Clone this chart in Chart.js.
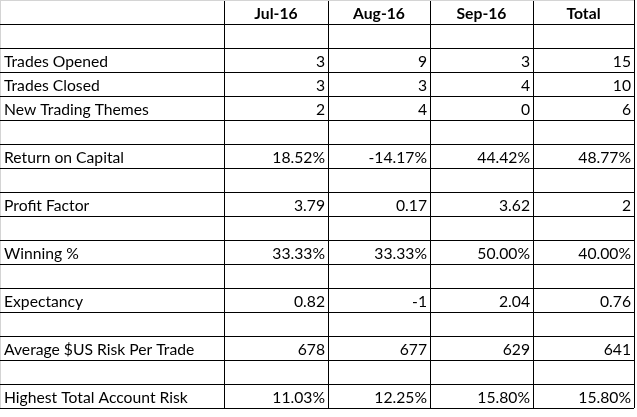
<!DOCTYPE html>
<html>
<head>
<meta charset="utf-8">
<script src="https://cdn.jsdelivr.net/npm/chart.js@4.4.0/dist/chart.umd.min.js"></script>
<style>
  html, body { margin: 0; padding: 0; background: #fff; }
  #wrap { width: 637px; height: 417px; }
</style>
</head>
<body>
<div id="wrap"><canvas id="stats"></canvas></div>
<script>
(function() {

    const months = ['Jul-16', 'Aug-16', 'Sep-16', 'Total'];

    // null = empty spacer row
    const metrics = [
        'Trades Opened', 'Trades Closed', 'New Trading Themes', null,
        'Return on Capital', null, 'Profit Factor', null, 'Winning %', null,
        'Expectancy', null, 'Average $US Risk Per Trade', null,
        'Highest Total Account Risk'
    ];
    const isPercent = [
        false, false, false, null, true, null, false, null, true, null,
        false, null, false, null, true
    ];

    const jul   = [3, 3, 2, null, 18.52, null, 3.79, null, 33.33, null, 0.82, null, 678, null, 11.03];
    const aug   = [9, 3, 4, null, -14.17, null, 0.17, null, 33.33, null, -1, null, 677, null, 12.25];
    const sep   = [3, 4, 0, null, 44.42, null, 3.62, null, 50.00, null, 2.04, null, 629, null, 15.80];
    const total = [15, 10, 6, null, 48.77, null, 2, null, 40.00, null, 0.76, null, 641, null, 15.80];
    const columns = [jul, aug, sep, total];

    // column edges along x (sheet column widths), rows are one unit each
    const colEdges = [0, 224, 328, 430, 533, 634];
    const headerRows = 2;
    const rowCount = headerRows + metrics.length;

    const font = '15.7px Lato';
    const boldFont = 'bold 15.7px Lato';

    function fmt(v, pct) {
        if (v === null) return '';
        return pct ? v.toFixed(2) + '%' : String(v);
    }

    // one point per cell, placed at the bottom-right corner of the cell
    const datasets = columns.map(function(col, c) {
        return {
            label: months[c],
            data: col.map(function(v, i) {
                return { x: colEdges[c + 2], y: headerRows + i + 1, text: fmt(v, isPercent[i]) };
            }),
            pointRadius: 0,
            pointHoverRadius: 0,
            showLine: false
        };
    });

    const tablePlugin = {
        id: 'tableText',
        beforeDraw(chart) {
            const ctx = chart.ctx;
            ctx.save();
            ctx.fillStyle = '#ffffff';
            ctx.fillRect(0, 0, chart.width, chart.height);
            ctx.restore();
        },
        afterDatasetsDraw(chart) {
            const ctx = chart.ctx;
            const xs = chart.scales.x;
            const ys = chart.scales.y;
            ctx.save();
            ctx.fillStyle = '#000000';
            ctx.textBaseline = 'alphabetic';

            // header row
            ctx.font = boldFont;
            ctx.textAlign = 'center';
            months.forEach(function(m, c) {
                const cx = (xs.getPixelForValue(colEdges[c + 1]) + xs.getPixelForValue(colEdges[c + 2])) / 2;
                ctx.fillText(m, cx, ys.getPixelForValue(1) - 5);
            });

            // row labels
            ctx.font = font;
            ctx.textAlign = 'left';
            metrics.forEach(function(label, i) {
                if (!label) return;
                ctx.fillText(label, xs.getPixelForValue(colEdges[0]) + 4, ys.getPixelForValue(headerRows + i + 1) - 5);
            });

            // values
            ctx.textAlign = 'right';
            chart.data.datasets.forEach(function(ds, d) {
                const meta = chart.getDatasetMeta(d);
                meta.data.forEach(function(pt, i) {
                    const t = ds.data[i].text;
                    if (t) ctx.fillText(t, pt.x - 3, pt.y - 5);
                });
            });
            ctx.restore();
        }
    };

    new Chart(document.getElementById('stats'), {
        type: 'scatter',
        data: { datasets: datasets },
        plugins: [tablePlugin],
        options: {
            responsive: true,
            maintainAspectRatio: false,
            animation: false,
            events: [],
            layout: { padding: { left: 0, top: 0, right: 3, bottom: 9 } },
            plugins: {
                legend: { display: false },
                tooltip: { enabled: false }
            },
            scales: {
                x: {
                    type: 'linear',
                    min: colEdges[0],
                    max: colEdges[colEdges.length - 1],
                    afterBuildTicks: function(scale) {
                        scale.ticks = colEdges.map(function(v) { return { value: v }; });
                    },
                    ticks: { display: false },
                    border: { display: false },
                    grid: {
                        drawTicks: false,
                        color: function(ctx) { return ctx.tick && ctx.tick.value === 0 ? '#d4d4d4' : '#000000'; },
                        lineWidth: function(ctx) { return ctx.tick && ctx.tick.value === 0 ? 2 : 1; }
                    }
                },
                y: {
                    type: 'linear',
                    reverse: true,
                    min: 0,
                    max: rowCount,
                    afterBuildTicks: function(scale) {
                        const t = [];
                        for (let r = 0; r <= rowCount; r++) t.push({ value: r });
                        scale.ticks = t;
                    },
                    ticks: { display: false },
                    border: { display: false },
                    grid: {
                        drawTicks: false,
                        color: function(ctx) { return ctx.tick && ctx.tick.value === 0 ? '#d4d4d4' : '#000000'; },
                        lineWidth: 1
                    }
                }
            }
        }
    });
})();
</script>
</body>
</html>
